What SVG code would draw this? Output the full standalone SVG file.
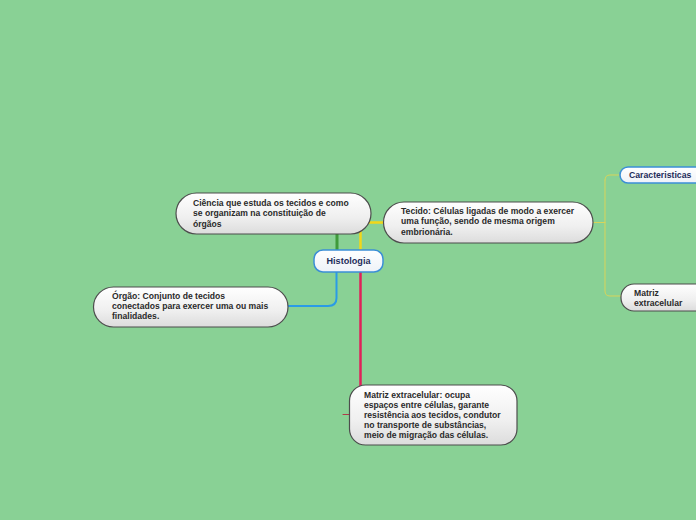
<svg xmlns="http://www.w3.org/2000/svg" width="696" height="520" viewBox="0 0 696 520">
<defs>
<linearGradient id="g" x1="0" y1="0" x2="0" y2="1">
<stop offset="0" stop-color="#ffffff"/>
<stop offset="0.6" stop-color="#efefef"/>
<stop offset="1" stop-color="#dcdcdc"/>
</linearGradient>
<linearGradient id="gb" x1="0" y1="0" x2="0" y2="1">
<stop offset="0" stop-color="#ffffff"/>
<stop offset="1" stop-color="#eef2f8"/>
</linearGradient>
</defs>
<style>
.n{fill:url(#g);stroke:#4d4d4d;stroke-width:1.2}
.b{fill:url(#gb);stroke:#3b8ed6;stroke-width:1.5}
.t{font-family:"Liberation Sans",Arial,sans-serif;font-weight:bold;font-size:8.6px;fill:#2a2a2a}
.tb{font-family:"Liberation Sans",Arial,sans-serif;font-weight:bold;fill:#1d2c5a}
.c{fill:none;stroke-linecap:round}
</style>
<rect width="696" height="520" fill="#89d195"/>
<g id="connectors">
<path class="c" d="M337 233 V250" stroke="#3f9a3a" stroke-width="3"/>
<path class="c" d="M383 222.5 H366 Q360.5 222.5 360.5 228 V250" stroke="#f2d619" stroke-width="2.5"/>
<path class="c" d="M336.5 272 V298 Q336.5 306 328 306 H288" stroke="#2a9be6" stroke-width="2"/>
<path class="c" d="M360.5 272 V386" stroke="#e0215a" stroke-width="2.5"/>
<path class="c" d="M343 414.5 H350" stroke="#b03a4a" stroke-width="1"/>
<path class="c" d="M593 222.5 H605 M605 180 Q605 175 610 175 H620 M605 180 V291 Q605 296 610 296 H621" stroke="#d8d45a" stroke-width="1"/>
</g>
<g id="ciencia">
<rect class="n" x="176" y="193" width="195" height="41" rx="20.5"/>
<text class="t" x="193" y="205.5">Ciência que estuda os tecidos e como</text>
<text class="t" x="193" y="216">se organizam na constituição de</text>
<text class="t" x="193" y="226.5">órgãos</text>
</g>
<g id="tecido">
<rect class="n" x="383.5" y="202" width="209.5" height="41" rx="20.5"/>
<text class="t" x="401" y="213.5">Tecido: Células ligadas de modo a exercer</text>
<text class="t" x="401" y="224">uma função, sendo de mesma origem</text>
<text class="t" x="401" y="234.5">embrionária.</text>
</g>
<g id="histologia">
<rect class="b" x="314" y="250" width="69" height="22" rx="9"/>
<text class="tb" x="348.5" y="264.2" font-size="9.1" text-anchor="middle">Histologia</text>
</g>
<g id="orgao">
<rect class="n" x="93.5" y="287" width="194.5" height="40" rx="20"/>
<text class="t" x="112" y="299">Órgão: Conjunto de tecidos</text>
<text class="t" x="112" y="309">conectados para exercer uma ou mais</text>
<text class="t" x="112" y="319">finalidades.</text>
</g>
<g id="matriz">
<rect class="n" x="349.5" y="385" width="167.5" height="60" rx="16"/>
<text class="t" x="364" y="398">Matriz extracelular: ocupa</text>
<text class="t" x="364" y="408">espaços entre células, garante</text>
<text class="t" x="364" y="418">resistência aos tecidos, condutor</text>
<text class="t" x="364" y="428">no transporte de substâncias,</text>
<text class="t" x="364" y="438">meio de migração das células.</text>
</g>
<g id="caracteristicas">
<rect class="b" x="620" y="167" width="100" height="16" rx="8"/>
<text class="tb" x="629" y="178.3" font-size="8.7">Caracteristicas</text>
</g>
<g id="matriz2">
<rect class="n" x="621" y="284" width="100" height="27" rx="13"/>
<text class="t" x="634" y="295.5">Matriz</text>
<text class="t" x="634" y="305.5">extracelular</text>
</g>
</svg>
